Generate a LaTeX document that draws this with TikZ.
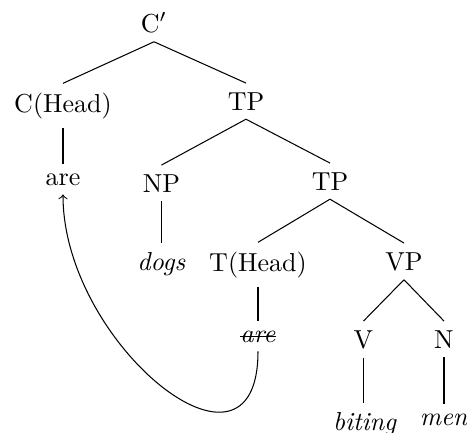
\documentclass[tikz,border=0pt]{standalone}
\newcommand\mystrike[1]{\setbox0=\hbox{#1}\rlap{\rule[2pt]{\wd0}{0.4pt}}\box0}
\begin{document}
\begin{tikzpicture}[x=0.3846pt,y=-0.3846pt,
  tn/.style={anchor=base, inner sep=3.333pt}]
\useasboundingbox (0,0) rectangle (467,432);
\node[tn] (Cp) at (154,32) {C$'$};
\node[tn] (CH) at (63,112) {C(Head)};
\node[tn] (TP1) at (246,110) {TP};
\node[tn] (are1) at (63,185) {are};
\node[tn] (NP) at (161.5,192) {NP};
\node[tn] (TP2) at (330,190) {TP};
\node[tn] (dogs) at (161.5,270) {\textit{dogs}};
\node[tn] (TH) at (258,271) {T(Head)};
\node[tn] (are2) at (258,342) {\mystrike{\textit{are}}};
\node[tn] (VP) at (404,270) {VP};
\node[tn] (V) at (363.5,348) {V};
\node[tn] (N) at (444,348) {N};
\node[tn] (biting) at (365,430) {\textit{biting}};
\node[tn] (men) at (444,425) {\textit{men}};
\draw (Cp.south) -- (CH.north);
\draw (Cp.south) -- (TP1.north);
\draw (CH.south) -- (are1.north);
\draw (TP1.south) -- (NP.north);
\draw (TP1.south) -- (TP2.north);
\draw (NP.south) -- (dogs.north);
\draw (TP2.south) -- (TH.north);
\draw (TP2.south) -- (VP.north);
\draw (TH.south) -- (are2.north);
\draw (VP.south) -- (V.north);
\draw (VP.south) -- (N.north);
\draw (V.south) -- (V.south |- biting.north);
\draw (N.south) -- (men.north);
\draw[->] (are2.south) .. controls +(0,150) and +(0,150) .. (are1.south);
\end{tikzpicture}
\end{document}
